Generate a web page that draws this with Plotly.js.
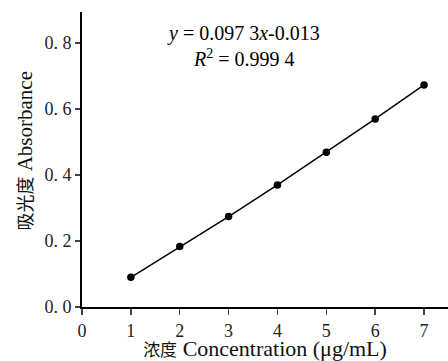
<!DOCTYPE html>
<html><head><meta charset="utf-8">
<script src="https://cdn.plot.ly/plotly-3.0.1.min.js"></script>
<style>html,body{margin:0;padding:0;background:#fff}#c{width:448px;height:361px}</style>
</head><body><div id="c"></div>
<script>
const concentration = [1, 2, 3, 4, 5, 6, 7];
const absorbance = [0.090, 0.183, 0.274, 0.370, 0.469, 0.570, 0.673];
const yTickVals = [0, 0.2, 0.4, 0.6, 0.8];
const yTickText = ["0. 0", "0. 2", "0. 4", "0. 6", "0. 8"];
const xTickVals = [0, 1, 2, 3, 4, 5, 6, 7];
const fitText = "<i>y</i> = 0.097 3<i>x</i>-0.013<br><i>R</i><sup>2</sup> = 0.999 4";
const xTitle = "<span style='font-size:17px'>浓度</span><span style='font-size:22px'> Concentration (μg/mL)</span>";
const yTitle = "<span style='font-size:18px'>吸光度</span><span style='font-size:21px'> Absorbance</span>";

const font = "Liberation Serif, Times New Roman, Noto Sans CJK SC, serif";
Plotly.newPlot('c', [{
  x: concentration, y: absorbance, type: 'scatter', mode: 'lines+markers',
  line: {color: '#000', width: 1.5},
  marker: {color: '#000', size: 7.5},
  showlegend: false, hoverinfo: 'none'
}], {
  width: 448, height: 361,
  margin: {l: 82, r: 0, t: 12, b: 54},
  paper_bgcolor: '#fff', plot_bgcolor: '#fff',
  font: {family: font, color: '#000'},
  xaxis: {
    range: [0, 7.49], tickvals: xTickVals, ticks: 'outside', ticklen: 6, tickwidth: 1.5,
    showline: true, linecolor: '#000', linewidth: 2, showgrid: false, zeroline: false,
    tickfont: {size: 18, family: font, color: '#222'},
    title: {text: xTitle, font: {size: 22, family: font, color: '#111'}, standoff: 1}
  },
  yaxis: {
    range: [0, 0.894], tickvals: yTickVals, ticktext: yTickText, ticks: 'outside', ticklen: 5, tickwidth: 1.5,
    showline: true, linecolor: '#000', linewidth: 2, showgrid: false, zeroline: false,
    tickfont: {size: 18, family: font, color: '#222'}
  },
  annotations: [
    {x: 3.30, y: 0.79, xref: 'x', yref: 'y', text: fitText, showarrow: false, align: 'center',
     font: {size: 20, family: font, color: '#000'}},
    {x: -0.156, y: 0.53, xref: 'paper', yref: 'paper', text: yTitle, textangle: -90, showarrow: false,
     xanchor: 'center', yanchor: 'middle', font: {size: 21, family: font, color: '#111'}}
  ]
}, {displayModeBar: false, staticPlot: true});
</script></body></html>
